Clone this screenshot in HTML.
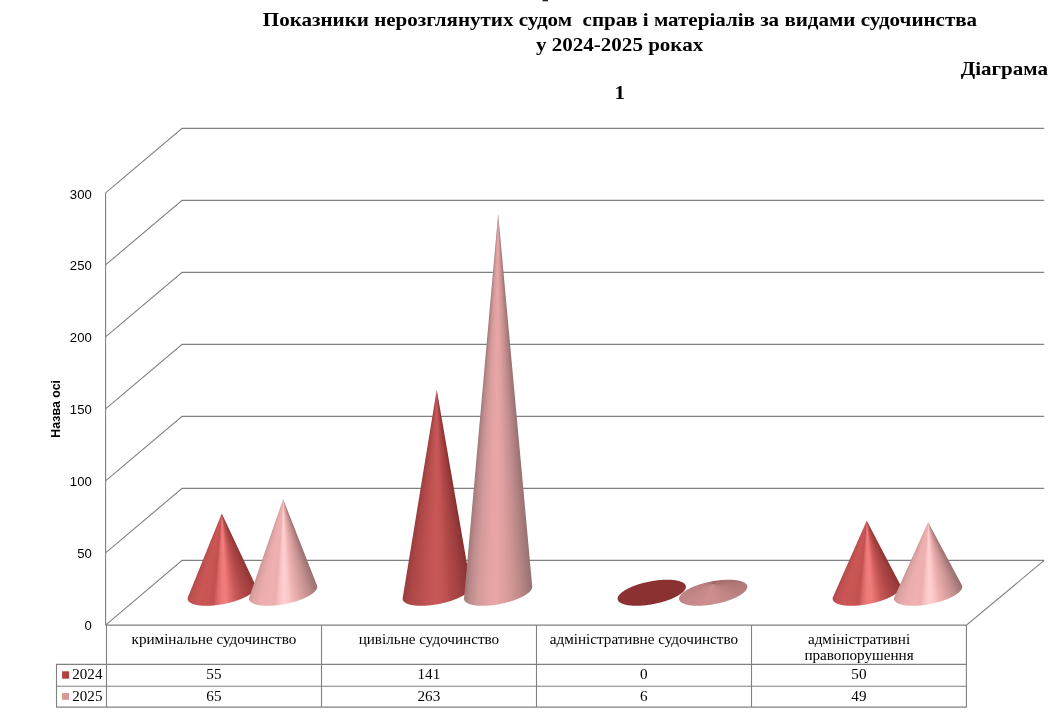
<!DOCTYPE html>
<html lang="uk"><head><meta charset="utf-8"><title>Діаграма 1</title>
<style>
html,body{margin:0;padding:0;background:#fff}
#c{position:relative;width:1054px;height:713px;overflow:hidden;background:#fff}
#c svg{position:absolute;left:0;top:0}
.cone{position:absolute;left:0;top:0;width:1054px;height:713px}
</style></head><body>
<div id="c">
<svg width="1054" height="713" viewBox="0 0 1054 713">
<path d="M105.6 625.1 L182.1 560.4 L1044.2 560.4 M105.6 552.8 L182.1 488.4 L1044.2 488.4 M105.6 480.8 L182.1 416.4 L1044.2 416.4 M105.6 408.8 L182.1 344.4 L1044.2 344.4 M105.6 336.8 L182.1 272.4 L1044.2 272.4 M105.6 264.8 L182.1 200.4 L1044.2 200.4 M105.6 192.8 L182.1 128.4 L1044.2 128.4 M105.6 192.8 L105.6 625.1 M105.6 625.1 L966.4 625.1 L1044.2 560.4" fill="none" stroke="#808080" stroke-width="1.1"/>
<path d="M106.5 625.1 L106.5 707.1 M321.5 625.1 L321.5 707.1 M536.5 625.1 L536.5 707.1 M751.5 625.1 L751.5 707.1 M966.4 625.1 L966.4 707.1 M56.5 664.4 L56.5 707.1 M56.0 664.4 L966.9 664.4 M56.0 686.2 L966.9 686.2 M56.0 707.1 L966.9 707.1" fill="none" stroke="#808080" stroke-width="1.1"/>
<text transform="translate(213.9,644.2) scale(1.107,1)" text-anchor="middle" font-size="13.70" font-family="'Liberation Serif', serif">кримінальне судочинство</text>
<text transform="translate(428.9,644.2) scale(1.107,1)" text-anchor="middle" font-size="13.70" font-family="'Liberation Serif', serif">цивільне судочинство</text>
<text transform="translate(643.9,644.2) scale(1.107,1)" text-anchor="middle" font-size="13.70" font-family="'Liberation Serif', serif">адміністративне судочинство</text>
<text transform="translate(859.0,644.2) scale(1.107,1)" text-anchor="middle" font-size="13.70" font-family="'Liberation Serif', serif">адміністративні</text>
<text transform="translate(859.0,660.4) scale(1.107,1)" text-anchor="middle" font-size="13.70" font-family="'Liberation Serif', serif">правопорушення</text>
<rect x="62.1" y="671.3" width="7" height="7.4" fill="#B3403E"/>
<text transform="translate(72.3,678.7) scale(1.100,1)" text-anchor="start" font-size="13.70" font-family="'Liberation Serif', serif">2024</text>
<text transform="translate(213.9,679.0) scale(1.107,1)" text-anchor="middle" font-size="13.70" font-family="'Liberation Serif', serif">55</text>
<text transform="translate(428.9,679.0) scale(1.107,1)" text-anchor="middle" font-size="13.70" font-family="'Liberation Serif', serif">141</text>
<text transform="translate(643.9,679.0) scale(1.107,1)" text-anchor="middle" font-size="13.70" font-family="'Liberation Serif', serif">0</text>
<text transform="translate(858.9,679.0) scale(1.107,1)" text-anchor="middle" font-size="13.70" font-family="'Liberation Serif', serif">50</text>
<rect x="62.1" y="693.0" width="7" height="6.8" fill="#D99694"/>
<text transform="translate(72.3,700.7) scale(1.100,1)" text-anchor="start" font-size="13.70" font-family="'Liberation Serif', serif">2025</text>
<text transform="translate(213.9,701.0) scale(1.107,1)" text-anchor="middle" font-size="13.70" font-family="'Liberation Serif', serif">65</text>
<text transform="translate(428.9,701.0) scale(1.107,1)" text-anchor="middle" font-size="13.70" font-family="'Liberation Serif', serif">263</text>
<text transform="translate(643.9,701.0) scale(1.107,1)" text-anchor="middle" font-size="13.70" font-family="'Liberation Serif', serif">6</text>
<text transform="translate(858.9,701.0) scale(1.107,1)" text-anchor="middle" font-size="13.70" font-family="'Liberation Serif', serif">49</text>
<text transform="translate(91.8,630.0) scale(1.070,1)" text-anchor="end" font-size="12.30" font-family="'Liberation Sans', sans-serif">0</text>
<text transform="translate(91.8,558.0) scale(1.070,1)" text-anchor="end" font-size="12.30" font-family="'Liberation Sans', sans-serif">50</text>
<text transform="translate(91.8,486.0) scale(1.070,1)" text-anchor="end" font-size="12.30" font-family="'Liberation Sans', sans-serif">100</text>
<text transform="translate(91.8,414.0) scale(1.070,1)" text-anchor="end" font-size="12.30" font-family="'Liberation Sans', sans-serif">150</text>
<text transform="translate(91.8,342.0) scale(1.070,1)" text-anchor="end" font-size="12.30" font-family="'Liberation Sans', sans-serif">200</text>
<text transform="translate(91.8,270.0) scale(1.070,1)" text-anchor="end" font-size="12.30" font-family="'Liberation Sans', sans-serif">250</text>
<text transform="translate(91.8,199.0) scale(1.070,1)" text-anchor="end" font-size="12.30" font-family="'Liberation Sans', sans-serif">300</text>
<text transform="translate(60.3,408.8) scale(1.06,1) rotate(-90)" text-anchor="middle" font-size="12.4" font-weight="bold" font-family="'Liberation Sans', sans-serif">Назва осі</text>
<text transform="translate(620.0,26.4) scale(1.107,1)" text-anchor="middle" font-size="19.00" font-family="'Liberation Serif', serif" font-weight="bold" xml:space="preserve" style="white-space:pre">Показники нерозглянутих судом  справ і матеріалів за видами судочинства</text>
<text transform="translate(619.6,50.5) scale(1.107,1)" text-anchor="middle" font-size="19.00" font-family="'Liberation Serif', serif" font-weight="bold">у 2024-2025 роках</text>
<text transform="translate(1048.0,74.5) scale(1.107,1)" text-anchor="end" font-size="19.00" font-family="'Liberation Serif', serif" font-weight="bold">Діаграма</text>
<text transform="translate(619.7,98.7) scale(1.107,1)" text-anchor="middle" font-size="19.00" font-family="'Liberation Serif', serif" font-weight="bold">1</text>
<rect x="542.5" y="0" width="5.5" height="1.3" fill="#222"/>
</svg>
<div class="cone" style="clip-path:polygon(221.75px 513.55px, 188.00px 596.90px, 187.96px 597.01px, 187.92px 597.11px, 187.88px 597.22px, 187.85px 597.33px, 187.81px 597.43px, 187.78px 597.54px, 187.76px 597.65px, 187.73px 597.75px, 187.71px 597.86px, 187.69px 597.96px, 187.67px 598.07px, 187.66px 598.17px, 187.65px 598.27px, 187.64px 598.38px, 187.63px 598.48px, 187.63px 598.58px, 187.63px 598.68px, 187.63px 598.79px, 187.63px 598.89px, 187.64px 598.99px, 187.65px 599.09px, 187.66px 599.19px, 187.67px 599.29px, 187.69px 599.38px, 187.71px 599.48px, 187.73px 599.58px, 187.75px 599.68px, 187.78px 599.77px, 187.81px 599.87px, 187.84px 599.96px, 187.88px 600.06px, 187.92px 600.15px, 187.96px 600.25px, 188.00px 600.34px, 188.04px 600.43px, 188.09px 600.52px, 188.14px 600.62px, 188.19px 600.71px, 188.25px 600.80px, 188.31px 600.89px, 188.37px 600.98px, 188.43px 601.06px, 188.50px 601.15px, 188.57px 601.24px, 188.64px 601.32px, 188.71px 601.41px, 188.79px 601.50px, 188.86px 601.58px, 188.94px 601.66px, 189.03px 601.75px, 189.11px 601.83px, 189.20px 601.91px, 189.29px 601.99px, 189.39px 602.07px, 189.48px 602.15px, 189.58px 602.23px, 189.68px 602.31px, 189.78px 602.39px, 189.89px 602.46px, 190.00px 602.54px, 190.11px 602.61px, 190.22px 602.69px, 190.33px 602.76px, 190.45px 602.84px, 190.57px 602.91px, 190.69px 602.98px, 190.82px 603.05px, 190.95px 603.12px, 191.07px 603.19px, 191.21px 603.26px, 191.34px 603.32px, 191.48px 603.39px, 191.61px 603.46px, 191.76px 603.52px, 191.90px 603.59px, 192.04px 603.65px, 192.19px 603.71px, 192.34px 603.77px, 192.49px 603.83px, 192.65px 603.89px, 192.80px 603.95px, 192.96px 604.01px, 193.12px 604.07px, 193.29px 604.13px, 193.45px 604.18px, 193.62px 604.24px, 193.79px 604.29px, 193.96px 604.34px, 194.14px 604.40px, 194.31px 604.45px, 194.49px 604.50px, 194.67px 604.55px, 194.85px 604.60px, 195.04px 604.64px, 195.22px 604.69px, 195.41px 604.74px, 195.60px 604.78px, 195.79px 604.83px, 195.99px 604.87px, 196.18px 604.91px, 196.38px 604.95px, 196.58px 604.99px, 196.79px 605.03px, 196.99px 605.07px, 197.20px 605.11px, 197.40px 605.14px, 197.61px 605.18px, 197.82px 605.22px, 198.04px 605.25px, 198.25px 605.28px, 198.47px 605.31px, 198.69px 605.35px, 198.91px 605.38px, 199.13px 605.40px, 199.35px 605.43px, 199.58px 605.46px, 199.81px 605.49px, 200.04px 605.51px, 200.27px 605.53px, 200.50px 605.56px, 200.73px 605.58px, 200.97px 605.60px, 201.20px 605.62px, 201.44px 605.64px, 201.68px 605.66px, 201.92px 605.68px, 202.17px 605.69px, 202.41px 605.71px, 202.66px 605.72px, 202.91px 605.74px, 203.16px 605.75px, 203.41px 605.76px, 203.66px 605.77px, 203.91px 605.78px, 204.17px 605.79px, 204.42px 605.80px, 204.68px 605.80px, 204.94px 605.81px, 205.20px 605.81px, 205.46px 605.82px, 205.72px 605.82px, 205.98px 605.82px, 206.25px 605.82px, 206.51px 605.82px, 206.78px 605.82px, 207.05px 605.82px, 207.32px 605.81px, 207.59px 605.81px, 207.86px 605.80px, 208.13px 605.80px, 208.41px 605.79px, 208.68px 605.78px, 208.96px 605.77px, 209.23px 605.76px, 209.51px 605.75px, 209.79px 605.74px, 210.07px 605.72px, 210.35px 605.71px, 210.63px 605.69px, 210.91px 605.68px, 211.19px 605.66px, 211.48px 605.64px, 211.76px 605.62px, 212.05px 605.60px, 212.33px 605.58px, 212.62px 605.56px, 212.91px 605.53px, 213.20px 605.51px, 213.48px 605.49px, 213.77px 605.46px, 214.06px 605.43px, 214.35px 605.40px, 214.64px 605.38px, 214.94px 605.35px, 215.23px 605.31px, 215.52px 605.28px, 215.81px 605.25px, 216.11px 605.22px, 216.40px 605.18px, 216.70px 605.14px, 216.99px 605.11px, 217.28px 605.07px, 217.58px 605.03px, 217.88px 604.99px, 218.17px 604.95px, 218.47px 604.91px, 218.76px 604.87px, 219.06px 604.83px, 219.36px 604.78px, 219.66px 604.74px, 219.95px 604.69px, 220.25px 604.64px, 220.55px 604.60px, 220.85px 604.55px, 221.14px 604.50px, 221.44px 604.45px, 221.74px 604.40px, 222.04px 604.34px, 222.33px 604.29px, 222.63px 604.24px, 222.93px 604.18px, 223.23px 604.13px, 223.52px 604.07px, 223.82px 604.01px, 224.12px 603.95px, 224.42px 603.89px, 224.71px 603.83px, 225.01px 603.77px, 225.31px 603.71px, 225.60px 603.65px, 225.90px 603.59px, 226.19px 603.52px, 226.49px 603.46px, 226.78px 603.39px, 227.08px 603.32px, 227.37px 603.26px, 227.66px 603.19px, 227.96px 603.12px, 228.25px 603.05px, 228.54px 602.98px, 228.83px 602.91px, 229.13px 602.84px, 229.42px 602.76px, 229.71px 602.69px, 229.99px 602.61px, 230.28px 602.54px, 230.57px 602.46px, 230.86px 602.39px, 231.15px 602.31px, 231.43px 602.23px, 231.72px 602.15px, 232.00px 602.07px, 232.28px 601.99px, 232.57px 601.91px, 232.85px 601.83px, 233.13px 601.75px, 233.41px 601.66px, 233.69px 601.58px, 233.97px 601.50px, 234.25px 601.41px, 234.52px 601.32px, 234.80px 601.24px, 235.07px 601.15px, 235.35px 601.06px, 235.62px 600.98px, 235.89px 600.89px, 236.16px 600.80px, 236.43px 600.71px, 236.70px 600.62px, 236.97px 600.52px, 237.23px 600.43px, 237.50px 600.34px, 237.76px 600.25px, 238.02px 600.15px, 238.28px 600.06px, 238.54px 599.96px, 238.80px 599.87px, 239.06px 599.77px, 239.32px 599.68px, 239.57px 599.58px, 239.82px 599.48px, 240.08px 599.38px, 240.33px 599.29px, 240.58px 599.19px, 240.82px 599.09px, 241.07px 598.99px, 241.31px 598.89px, 241.56px 598.79px, 241.80px 598.68px, 242.04px 598.58px, 242.28px 598.48px, 242.51px 598.38px, 242.75px 598.27px, 242.98px 598.17px, 243.22px 598.07px, 243.45px 597.96px, 243.68px 597.86px, 243.90px 597.75px, 244.13px 597.65px, 244.35px 597.54px, 244.58px 597.43px, 244.80px 597.33px, 245.01px 597.22px, 245.23px 597.11px, 245.45px 597.01px, 245.66px 596.90px, 245.87px 596.79px, 246.08px 596.68px, 246.29px 596.57px, 246.50px 596.46px, 246.70px 596.35px, 246.90px 596.24px, 247.10px 596.13px, 247.30px 596.02px, 247.50px 595.91px, 247.69px 595.80px, 247.88px 595.69px, 248.07px 595.58px, 248.26px 595.47px, 248.45px 595.36px, 248.63px 595.24px, 248.82px 595.13px, 249.00px 595.02px, 249.17px 594.91px, 249.35px 594.79px, 249.52px 594.68px, 249.70px 594.57px, 249.87px 594.46px, 250.03px 594.34px, 250.20px 594.23px, 250.36px 594.12px, 250.52px 594.00px, 250.68px 593.89px, 250.84px 593.78px, 250.99px 593.66px, 251.15px 593.55px, 251.30px 593.43px, 251.44px 593.32px, 251.59px 593.21px, 251.73px 593.09px, 251.87px 592.98px, 252.01px 592.86px, 252.15px 592.75px, 252.28px 592.64px, 252.42px 592.52px, 252.55px 592.41px, 252.67px 592.29px, 252.80px 592.18px, 252.92px 592.07px, 253.04px 591.95px, 253.16px 591.84px, 253.27px 591.72px, 253.39px 591.61px, 253.50px 591.50px, 253.60px 591.38px, 253.71px 591.27px, 253.81px 591.16px, 253.91px 591.04px, 254.01px 590.93px, 254.11px 590.82px, 254.20px 590.71px, 254.29px 590.59px, 254.38px 590.48px, 254.47px 590.37px, 254.55px 590.26px, 254.63px 590.14px, 254.71px 590.03px, 254.78px 589.92px, 254.86px 589.81px, 254.93px 589.70px, 255.00px 589.59px, 255.06px 589.48px, 255.13px 589.37px, 255.19px 589.26px, 255.25px 589.15px, 255.30px 589.04px, 255.35px 588.93px, 255.40px 588.82px, 255.45px 588.71px, 255.50px 588.60px, 255.54px 588.49px, 255.58px 588.39px, 255.62px 588.28px, 255.65px 588.17px, 255.69px 588.07px, 255.72px 587.96px, 255.74px 587.85px, 255.77px 587.75px, 255.79px 587.64px, 255.81px 587.54px, 255.83px 587.43px, 255.84px 587.33px, 255.85px 587.23px, 255.86px 587.12px, 255.87px 587.02px, 255.87px 586.92px, 255.87px 586.82px, 255.87px 586.71px, 255.87px 586.61px, 255.86px 586.51px, 255.85px 586.41px, 255.84px 586.31px, 255.83px 586.21px, 255.81px 586.12px, 255.79px 586.02px, 255.77px 585.92px, 255.75px 585.82px, 255.72px 585.73px, 255.69px 585.63px, 255.66px 585.54px, 255.62px 585.44px, 255.58px 585.35px, 255.54px 585.25px, 255.50px 585.16px);background:conic-gradient(from 0deg at 221.75px 513.55px, #8E3434 0deg, #8E3434 154.765deg, #A03E3E 159.492deg, #B24848 165.166deg, #C85858 170.367deg, #E06C6C 174.149deg, #F07C7C 176.986deg, #EE7A7A 179.822deg, #DC6A6A 182.659deg, #C25050 185.496deg, #C85454 188.805deg, #CA5656 194.952deg, #C05050 199.679deg, #B04848 202.043deg, #B04848 360deg)"></div>
<div class="cone" style="clip-path:polygon(283.15px 499.15px, 249.28px 597.22px, 249.25px 597.33px, 249.21px 597.43px, 249.18px 597.54px, 249.16px 597.65px, 249.13px 597.75px, 249.11px 597.86px, 249.09px 597.96px, 249.07px 598.07px, 249.06px 598.17px, 249.05px 598.27px, 249.04px 598.38px, 249.03px 598.48px, 249.03px 598.58px, 249.03px 598.68px, 249.03px 598.79px, 249.03px 598.89px, 249.04px 598.99px, 249.05px 599.09px, 249.06px 599.19px, 249.07px 599.29px, 249.09px 599.38px, 249.11px 599.48px, 249.13px 599.58px, 249.15px 599.68px, 249.18px 599.77px, 249.21px 599.87px, 249.24px 599.96px, 249.28px 600.06px, 249.32px 600.15px, 249.36px 600.25px, 249.40px 600.34px, 249.44px 600.43px, 249.49px 600.52px, 249.54px 600.62px, 249.59px 600.71px, 249.65px 600.80px, 249.71px 600.89px, 249.77px 600.98px, 249.83px 601.06px, 249.90px 601.15px, 249.97px 601.24px, 250.04px 601.32px, 250.11px 601.41px, 250.19px 601.50px, 250.26px 601.58px, 250.34px 601.66px, 250.43px 601.75px, 250.51px 601.83px, 250.60px 601.91px, 250.69px 601.99px, 250.79px 602.07px, 250.88px 602.15px, 250.98px 602.23px, 251.08px 602.31px, 251.18px 602.39px, 251.29px 602.46px, 251.40px 602.54px, 251.51px 602.61px, 251.62px 602.69px, 251.73px 602.76px, 251.85px 602.84px, 251.97px 602.91px, 252.09px 602.98px, 252.22px 603.05px, 252.35px 603.12px, 252.47px 603.19px, 252.61px 603.26px, 252.74px 603.32px, 252.88px 603.39px, 253.01px 603.46px, 253.16px 603.52px, 253.30px 603.59px, 253.44px 603.65px, 253.59px 603.71px, 253.74px 603.77px, 253.89px 603.83px, 254.05px 603.89px, 254.20px 603.95px, 254.36px 604.01px, 254.52px 604.07px, 254.69px 604.13px, 254.85px 604.18px, 255.02px 604.24px, 255.19px 604.29px, 255.36px 604.34px, 255.54px 604.40px, 255.71px 604.45px, 255.89px 604.50px, 256.07px 604.55px, 256.25px 604.60px, 256.44px 604.64px, 256.62px 604.69px, 256.81px 604.74px, 257.00px 604.78px, 257.19px 604.83px, 257.39px 604.87px, 257.58px 604.91px, 257.78px 604.95px, 257.98px 604.99px, 258.19px 605.03px, 258.39px 605.07px, 258.60px 605.11px, 258.80px 605.14px, 259.01px 605.18px, 259.22px 605.22px, 259.44px 605.25px, 259.65px 605.28px, 259.87px 605.31px, 260.09px 605.35px, 260.31px 605.38px, 260.53px 605.40px, 260.75px 605.43px, 260.98px 605.46px, 261.21px 605.49px, 261.44px 605.51px, 261.67px 605.53px, 261.90px 605.56px, 262.13px 605.58px, 262.37px 605.60px, 262.60px 605.62px, 262.84px 605.64px, 263.08px 605.66px, 263.32px 605.68px, 263.57px 605.69px, 263.81px 605.71px, 264.06px 605.72px, 264.31px 605.74px, 264.56px 605.75px, 264.81px 605.76px, 265.06px 605.77px, 265.31px 605.78px, 265.57px 605.79px, 265.82px 605.80px, 266.08px 605.80px, 266.34px 605.81px, 266.60px 605.81px, 266.86px 605.82px, 267.12px 605.82px, 267.38px 605.82px, 267.65px 605.82px, 267.91px 605.82px, 268.18px 605.82px, 268.45px 605.82px, 268.72px 605.81px, 268.99px 605.81px, 269.26px 605.80px, 269.53px 605.80px, 269.81px 605.79px, 270.08px 605.78px, 270.36px 605.77px, 270.63px 605.76px, 270.91px 605.75px, 271.19px 605.74px, 271.47px 605.72px, 271.75px 605.71px, 272.03px 605.69px, 272.31px 605.68px, 272.59px 605.66px, 272.88px 605.64px, 273.16px 605.62px, 273.45px 605.60px, 273.73px 605.58px, 274.02px 605.56px, 274.31px 605.53px, 274.60px 605.51px, 274.88px 605.49px, 275.17px 605.46px, 275.46px 605.43px, 275.75px 605.40px, 276.04px 605.38px, 276.34px 605.35px, 276.63px 605.31px, 276.92px 605.28px, 277.21px 605.25px, 277.51px 605.22px, 277.80px 605.18px, 278.10px 605.14px, 278.39px 605.11px, 278.68px 605.07px, 278.98px 605.03px, 279.28px 604.99px, 279.57px 604.95px, 279.87px 604.91px, 280.16px 604.87px, 280.46px 604.83px, 280.76px 604.78px, 281.06px 604.74px, 281.35px 604.69px, 281.65px 604.64px, 281.95px 604.60px, 282.25px 604.55px, 282.54px 604.50px, 282.84px 604.45px, 283.14px 604.40px, 283.44px 604.34px, 283.73px 604.29px, 284.03px 604.24px, 284.33px 604.18px, 284.63px 604.13px, 284.92px 604.07px, 285.22px 604.01px, 285.52px 603.95px, 285.82px 603.89px, 286.11px 603.83px, 286.41px 603.77px, 286.71px 603.71px, 287.00px 603.65px, 287.30px 603.59px, 287.59px 603.52px, 287.89px 603.46px, 288.18px 603.39px, 288.48px 603.32px, 288.77px 603.26px, 289.06px 603.19px, 289.36px 603.12px, 289.65px 603.05px, 289.94px 602.98px, 290.23px 602.91px, 290.53px 602.84px, 290.82px 602.76px, 291.11px 602.69px, 291.39px 602.61px, 291.68px 602.54px, 291.97px 602.46px, 292.26px 602.39px, 292.55px 602.31px, 292.83px 602.23px, 293.12px 602.15px, 293.40px 602.07px, 293.68px 601.99px, 293.97px 601.91px, 294.25px 601.83px, 294.53px 601.75px, 294.81px 601.66px, 295.09px 601.58px, 295.37px 601.50px, 295.65px 601.41px, 295.92px 601.32px, 296.20px 601.24px, 296.47px 601.15px, 296.75px 601.06px, 297.02px 600.98px, 297.29px 600.89px, 297.56px 600.80px, 297.83px 600.71px, 298.10px 600.62px, 298.37px 600.52px, 298.63px 600.43px, 298.90px 600.34px, 299.16px 600.25px, 299.42px 600.15px, 299.68px 600.06px, 299.94px 599.96px, 300.20px 599.87px, 300.46px 599.77px, 300.72px 599.68px, 300.97px 599.58px, 301.22px 599.48px, 301.48px 599.38px, 301.73px 599.29px, 301.98px 599.19px, 302.22px 599.09px, 302.47px 598.99px, 302.71px 598.89px, 302.96px 598.79px, 303.20px 598.68px, 303.44px 598.58px, 303.68px 598.48px, 303.91px 598.38px, 304.15px 598.27px, 304.38px 598.17px, 304.62px 598.07px, 304.85px 597.96px, 305.08px 597.86px, 305.30px 597.75px, 305.53px 597.65px, 305.75px 597.54px, 305.98px 597.43px, 306.20px 597.33px, 306.41px 597.22px, 306.63px 597.11px, 306.85px 597.01px, 307.06px 596.90px, 307.27px 596.79px, 307.48px 596.68px, 307.69px 596.57px, 307.90px 596.46px, 308.10px 596.35px, 308.30px 596.24px, 308.50px 596.13px, 308.70px 596.02px, 308.90px 595.91px, 309.09px 595.80px, 309.28px 595.69px, 309.47px 595.58px, 309.66px 595.47px, 309.85px 595.36px, 310.03px 595.24px, 310.22px 595.13px, 310.40px 595.02px, 310.57px 594.91px, 310.75px 594.79px, 310.92px 594.68px, 311.10px 594.57px, 311.27px 594.46px, 311.43px 594.34px, 311.60px 594.23px, 311.76px 594.12px, 311.92px 594.00px, 312.08px 593.89px, 312.24px 593.78px, 312.39px 593.66px, 312.55px 593.55px, 312.70px 593.43px, 312.84px 593.32px, 312.99px 593.21px, 313.13px 593.09px, 313.27px 592.98px, 313.41px 592.86px, 313.55px 592.75px, 313.68px 592.64px, 313.82px 592.52px, 313.95px 592.41px, 314.07px 592.29px, 314.20px 592.18px, 314.32px 592.07px, 314.44px 591.95px, 314.56px 591.84px, 314.67px 591.72px, 314.79px 591.61px, 314.90px 591.50px, 315.00px 591.38px, 315.11px 591.27px, 315.21px 591.16px, 315.31px 591.04px, 315.41px 590.93px, 315.51px 590.82px, 315.60px 590.71px, 315.69px 590.59px, 315.78px 590.48px, 315.87px 590.37px, 315.95px 590.26px, 316.03px 590.14px, 316.11px 590.03px, 316.18px 589.92px, 316.26px 589.81px, 316.33px 589.70px, 316.40px 589.59px, 316.46px 589.48px, 316.53px 589.37px, 316.59px 589.26px, 316.65px 589.15px, 316.70px 589.04px, 316.75px 588.93px, 316.80px 588.82px, 316.85px 588.71px, 316.90px 588.60px, 316.94px 588.49px, 316.98px 588.39px, 317.02px 588.28px, 317.05px 588.17px, 317.09px 588.07px, 317.12px 587.96px, 317.14px 587.85px, 317.17px 587.75px, 317.19px 587.64px, 317.21px 587.54px, 317.23px 587.43px, 317.24px 587.33px, 317.25px 587.23px, 317.26px 587.12px, 317.27px 587.02px, 317.27px 586.92px, 317.27px 586.82px, 317.27px 586.71px, 317.27px 586.61px, 317.26px 586.51px, 317.25px 586.41px, 317.24px 586.31px, 317.23px 586.21px, 317.21px 586.12px, 317.19px 586.02px, 317.17px 585.92px, 317.15px 585.82px, 317.12px 585.73px, 317.09px 585.63px, 317.06px 585.54px, 317.02px 585.44px);background:conic-gradient(from 0deg at 283.15px 499.15px, #987070 0deg, #987070 158.569deg, #A87A7A 160.998deg, #C48E8E 165.046deg, #DCA2A2 169.904deg, #EEB2B2 173.953deg, #FCC8C8 177.191deg, #FFD0D0 179.620deg, #FAC2C2 182.049deg, #ECAEAE 184.478deg, #EEB0B0 187.717deg, #EAACAC 192.980deg, #DCA2A2 197.028deg, #C89494 199.052deg, #C89494 360deg)"></div>
<div class="cone" style="clip-path:polygon(436.75px 389.71px, 402.69px 597.96px, 402.67px 598.07px, 402.66px 598.17px, 402.65px 598.27px, 402.64px 598.38px, 402.63px 598.48px, 402.63px 598.58px, 402.63px 598.68px, 402.63px 598.79px, 402.63px 598.89px, 402.64px 598.99px, 402.65px 599.09px, 402.66px 599.19px, 402.67px 599.29px, 402.69px 599.38px, 402.71px 599.48px, 402.73px 599.58px, 402.75px 599.68px, 402.78px 599.77px, 402.81px 599.87px, 402.84px 599.96px, 402.88px 600.06px, 402.92px 600.15px, 402.96px 600.25px, 403.00px 600.34px, 403.04px 600.43px, 403.09px 600.52px, 403.14px 600.62px, 403.19px 600.71px, 403.25px 600.80px, 403.31px 600.89px, 403.37px 600.98px, 403.43px 601.06px, 403.50px 601.15px, 403.57px 601.24px, 403.64px 601.32px, 403.71px 601.41px, 403.79px 601.50px, 403.86px 601.58px, 403.94px 601.66px, 404.03px 601.75px, 404.11px 601.83px, 404.20px 601.91px, 404.29px 601.99px, 404.39px 602.07px, 404.48px 602.15px, 404.58px 602.23px, 404.68px 602.31px, 404.78px 602.39px, 404.89px 602.46px, 405.00px 602.54px, 405.11px 602.61px, 405.22px 602.69px, 405.33px 602.76px, 405.45px 602.84px, 405.57px 602.91px, 405.69px 602.98px, 405.82px 603.05px, 405.95px 603.12px, 406.07px 603.19px, 406.21px 603.26px, 406.34px 603.32px, 406.48px 603.39px, 406.61px 603.46px, 406.76px 603.52px, 406.90px 603.59px, 407.04px 603.65px, 407.19px 603.71px, 407.34px 603.77px, 407.49px 603.83px, 407.65px 603.89px, 407.80px 603.95px, 407.96px 604.01px, 408.12px 604.07px, 408.29px 604.13px, 408.45px 604.18px, 408.62px 604.24px, 408.79px 604.29px, 408.96px 604.34px, 409.14px 604.40px, 409.31px 604.45px, 409.49px 604.50px, 409.67px 604.55px, 409.85px 604.60px, 410.04px 604.64px, 410.22px 604.69px, 410.41px 604.74px, 410.60px 604.78px, 410.79px 604.83px, 410.99px 604.87px, 411.18px 604.91px, 411.38px 604.95px, 411.58px 604.99px, 411.79px 605.03px, 411.99px 605.07px, 412.20px 605.11px, 412.40px 605.14px, 412.61px 605.18px, 412.82px 605.22px, 413.04px 605.25px, 413.25px 605.28px, 413.47px 605.31px, 413.69px 605.35px, 413.91px 605.38px, 414.13px 605.40px, 414.35px 605.43px, 414.58px 605.46px, 414.81px 605.49px, 415.04px 605.51px, 415.27px 605.53px, 415.50px 605.56px, 415.73px 605.58px, 415.97px 605.60px, 416.20px 605.62px, 416.44px 605.64px, 416.68px 605.66px, 416.92px 605.68px, 417.17px 605.69px, 417.41px 605.71px, 417.66px 605.72px, 417.91px 605.74px, 418.16px 605.75px, 418.41px 605.76px, 418.66px 605.77px, 418.91px 605.78px, 419.17px 605.79px, 419.42px 605.80px, 419.68px 605.80px, 419.94px 605.81px, 420.20px 605.81px, 420.46px 605.82px, 420.72px 605.82px, 420.98px 605.82px, 421.25px 605.82px, 421.51px 605.82px, 421.78px 605.82px, 422.05px 605.82px, 422.32px 605.81px, 422.59px 605.81px, 422.86px 605.80px, 423.13px 605.80px, 423.41px 605.79px, 423.68px 605.78px, 423.96px 605.77px, 424.23px 605.76px, 424.51px 605.75px, 424.79px 605.74px, 425.07px 605.72px, 425.35px 605.71px, 425.63px 605.69px, 425.91px 605.68px, 426.19px 605.66px, 426.48px 605.64px, 426.76px 605.62px, 427.05px 605.60px, 427.33px 605.58px, 427.62px 605.56px, 427.91px 605.53px, 428.20px 605.51px, 428.48px 605.49px, 428.77px 605.46px, 429.06px 605.43px, 429.35px 605.40px, 429.64px 605.38px, 429.94px 605.35px, 430.23px 605.31px, 430.52px 605.28px, 430.81px 605.25px, 431.11px 605.22px, 431.40px 605.18px, 431.70px 605.14px, 431.99px 605.11px, 432.28px 605.07px, 432.58px 605.03px, 432.88px 604.99px, 433.17px 604.95px, 433.47px 604.91px, 433.76px 604.87px, 434.06px 604.83px, 434.36px 604.78px, 434.66px 604.74px, 434.95px 604.69px, 435.25px 604.64px, 435.55px 604.60px, 435.85px 604.55px, 436.14px 604.50px, 436.44px 604.45px, 436.74px 604.40px, 437.04px 604.34px, 437.33px 604.29px, 437.63px 604.24px, 437.93px 604.18px, 438.23px 604.13px, 438.52px 604.07px, 438.82px 604.01px, 439.12px 603.95px, 439.42px 603.89px, 439.71px 603.83px, 440.01px 603.77px, 440.31px 603.71px, 440.60px 603.65px, 440.90px 603.59px, 441.19px 603.52px, 441.49px 603.46px, 441.78px 603.39px, 442.08px 603.32px, 442.37px 603.26px, 442.66px 603.19px, 442.96px 603.12px, 443.25px 603.05px, 443.54px 602.98px, 443.83px 602.91px, 444.13px 602.84px, 444.42px 602.76px, 444.71px 602.69px, 444.99px 602.61px, 445.28px 602.54px, 445.57px 602.46px, 445.86px 602.39px, 446.15px 602.31px, 446.43px 602.23px, 446.72px 602.15px, 447.00px 602.07px, 447.28px 601.99px, 447.57px 601.91px, 447.85px 601.83px, 448.13px 601.75px, 448.41px 601.66px, 448.69px 601.58px, 448.97px 601.50px, 449.25px 601.41px, 449.52px 601.32px, 449.80px 601.24px, 450.07px 601.15px, 450.35px 601.06px, 450.62px 600.98px, 450.89px 600.89px, 451.16px 600.80px, 451.43px 600.71px, 451.70px 600.62px, 451.97px 600.52px, 452.23px 600.43px, 452.50px 600.34px, 452.76px 600.25px, 453.02px 600.15px, 453.28px 600.06px, 453.54px 599.96px, 453.80px 599.87px, 454.06px 599.77px, 454.32px 599.68px, 454.57px 599.58px, 454.82px 599.48px, 455.08px 599.38px, 455.33px 599.29px, 455.58px 599.19px, 455.82px 599.09px, 456.07px 598.99px, 456.31px 598.89px, 456.56px 598.79px, 456.80px 598.68px, 457.04px 598.58px, 457.28px 598.48px, 457.51px 598.38px, 457.75px 598.27px, 457.98px 598.17px, 458.22px 598.07px, 458.45px 597.96px, 458.68px 597.86px, 458.90px 597.75px, 459.13px 597.65px, 459.35px 597.54px, 459.58px 597.43px, 459.80px 597.33px, 460.01px 597.22px, 460.23px 597.11px, 460.45px 597.01px, 460.66px 596.90px, 460.87px 596.79px, 461.08px 596.68px, 461.29px 596.57px, 461.50px 596.46px, 461.70px 596.35px, 461.90px 596.24px, 462.10px 596.13px, 462.30px 596.02px, 462.50px 595.91px, 462.69px 595.80px, 462.88px 595.69px, 463.07px 595.58px, 463.26px 595.47px, 463.45px 595.36px, 463.63px 595.24px, 463.82px 595.13px, 464.00px 595.02px, 464.17px 594.91px, 464.35px 594.79px, 464.52px 594.68px, 464.70px 594.57px, 464.87px 594.46px, 465.03px 594.34px, 465.20px 594.23px, 465.36px 594.12px, 465.52px 594.00px, 465.68px 593.89px, 465.84px 593.78px, 465.99px 593.66px, 466.15px 593.55px, 466.30px 593.43px, 466.44px 593.32px, 466.59px 593.21px, 466.73px 593.09px, 466.87px 592.98px, 467.01px 592.86px, 467.15px 592.75px, 467.28px 592.64px, 467.42px 592.52px, 467.55px 592.41px, 467.67px 592.29px, 467.80px 592.18px, 467.92px 592.07px, 468.04px 591.95px, 468.16px 591.84px, 468.27px 591.72px, 468.39px 591.61px, 468.50px 591.50px, 468.60px 591.38px, 468.71px 591.27px, 468.81px 591.16px, 468.91px 591.04px, 469.01px 590.93px, 469.11px 590.82px, 469.20px 590.71px, 469.29px 590.59px, 469.38px 590.48px, 469.47px 590.37px, 469.55px 590.26px, 469.63px 590.14px, 469.71px 590.03px, 469.78px 589.92px, 469.86px 589.81px, 469.93px 589.70px, 470.00px 589.59px, 470.06px 589.48px, 470.13px 589.37px, 470.19px 589.26px, 470.25px 589.15px, 470.30px 589.04px, 470.35px 588.93px, 470.40px 588.82px, 470.45px 588.71px, 470.50px 588.60px, 470.54px 588.49px, 470.58px 588.39px, 470.62px 588.28px, 470.65px 588.17px, 470.69px 588.07px, 470.72px 587.96px, 470.74px 587.85px, 470.77px 587.75px, 470.79px 587.64px, 470.81px 587.54px, 470.83px 587.43px, 470.84px 587.33px, 470.85px 587.23px, 470.86px 587.12px, 470.87px 587.02px, 470.87px 586.92px, 470.87px 586.82px, 470.87px 586.71px, 470.87px 586.61px, 470.86px 586.51px, 470.85px 586.41px, 470.84px 586.31px, 470.83px 586.21px, 470.81px 586.12px);background:conic-gradient(from 0deg at 436.75px 389.71px, #883030 0deg, #883030 170.161deg, #9E3E3E 173.031deg, #B24848 175.900deg, #C65656 178.769deg, #C85858 180.681deg, #BA4E4E 184.507deg, #AC4646 187.376deg, #9A3C3C 189.289deg, #9A3C3C 360deg)"></div>
<div class="cone" style="clip-path:polygon(498.15px 214.03px, 464.04px 598.38px, 464.03px 598.48px, 464.03px 598.58px, 464.03px 598.68px, 464.03px 598.79px, 464.03px 598.89px, 464.04px 598.99px, 464.05px 599.09px, 464.06px 599.19px, 464.07px 599.29px, 464.09px 599.38px, 464.11px 599.48px, 464.13px 599.58px, 464.15px 599.68px, 464.18px 599.77px, 464.21px 599.87px, 464.24px 599.96px, 464.28px 600.06px, 464.32px 600.15px, 464.36px 600.25px, 464.40px 600.34px, 464.44px 600.43px, 464.49px 600.52px, 464.54px 600.62px, 464.59px 600.71px, 464.65px 600.80px, 464.71px 600.89px, 464.77px 600.98px, 464.83px 601.06px, 464.90px 601.15px, 464.97px 601.24px, 465.04px 601.32px, 465.11px 601.41px, 465.19px 601.50px, 465.26px 601.58px, 465.34px 601.66px, 465.43px 601.75px, 465.51px 601.83px, 465.60px 601.91px, 465.69px 601.99px, 465.79px 602.07px, 465.88px 602.15px, 465.98px 602.23px, 466.08px 602.31px, 466.18px 602.39px, 466.29px 602.46px, 466.40px 602.54px, 466.51px 602.61px, 466.62px 602.69px, 466.73px 602.76px, 466.85px 602.84px, 466.97px 602.91px, 467.09px 602.98px, 467.22px 603.05px, 467.35px 603.12px, 467.47px 603.19px, 467.61px 603.26px, 467.74px 603.32px, 467.88px 603.39px, 468.01px 603.46px, 468.16px 603.52px, 468.30px 603.59px, 468.44px 603.65px, 468.59px 603.71px, 468.74px 603.77px, 468.89px 603.83px, 469.05px 603.89px, 469.20px 603.95px, 469.36px 604.01px, 469.52px 604.07px, 469.69px 604.13px, 469.85px 604.18px, 470.02px 604.24px, 470.19px 604.29px, 470.36px 604.34px, 470.54px 604.40px, 470.71px 604.45px, 470.89px 604.50px, 471.07px 604.55px, 471.25px 604.60px, 471.44px 604.64px, 471.62px 604.69px, 471.81px 604.74px, 472.00px 604.78px, 472.19px 604.83px, 472.39px 604.87px, 472.58px 604.91px, 472.78px 604.95px, 472.98px 604.99px, 473.19px 605.03px, 473.39px 605.07px, 473.60px 605.11px, 473.80px 605.14px, 474.01px 605.18px, 474.22px 605.22px, 474.44px 605.25px, 474.65px 605.28px, 474.87px 605.31px, 475.09px 605.35px, 475.31px 605.38px, 475.53px 605.40px, 475.75px 605.43px, 475.98px 605.46px, 476.21px 605.49px, 476.44px 605.51px, 476.67px 605.53px, 476.90px 605.56px, 477.13px 605.58px, 477.37px 605.60px, 477.60px 605.62px, 477.84px 605.64px, 478.08px 605.66px, 478.32px 605.68px, 478.57px 605.69px, 478.81px 605.71px, 479.06px 605.72px, 479.31px 605.74px, 479.56px 605.75px, 479.81px 605.76px, 480.06px 605.77px, 480.31px 605.78px, 480.57px 605.79px, 480.82px 605.80px, 481.08px 605.80px, 481.34px 605.81px, 481.60px 605.81px, 481.86px 605.82px, 482.12px 605.82px, 482.38px 605.82px, 482.65px 605.82px, 482.91px 605.82px, 483.18px 605.82px, 483.45px 605.82px, 483.72px 605.81px, 483.99px 605.81px, 484.26px 605.80px, 484.53px 605.80px, 484.81px 605.79px, 485.08px 605.78px, 485.36px 605.77px, 485.63px 605.76px, 485.91px 605.75px, 486.19px 605.74px, 486.47px 605.72px, 486.75px 605.71px, 487.03px 605.69px, 487.31px 605.68px, 487.59px 605.66px, 487.88px 605.64px, 488.16px 605.62px, 488.45px 605.60px, 488.73px 605.58px, 489.02px 605.56px, 489.31px 605.53px, 489.60px 605.51px, 489.88px 605.49px, 490.17px 605.46px, 490.46px 605.43px, 490.75px 605.40px, 491.04px 605.38px, 491.34px 605.35px, 491.63px 605.31px, 491.92px 605.28px, 492.21px 605.25px, 492.51px 605.22px, 492.80px 605.18px, 493.10px 605.14px, 493.39px 605.11px, 493.68px 605.07px, 493.98px 605.03px, 494.28px 604.99px, 494.57px 604.95px, 494.87px 604.91px, 495.16px 604.87px, 495.46px 604.83px, 495.76px 604.78px, 496.06px 604.74px, 496.35px 604.69px, 496.65px 604.64px, 496.95px 604.60px, 497.25px 604.55px, 497.54px 604.50px, 497.84px 604.45px, 498.14px 604.40px, 498.44px 604.34px, 498.73px 604.29px, 499.03px 604.24px, 499.33px 604.18px, 499.63px 604.13px, 499.92px 604.07px, 500.22px 604.01px, 500.52px 603.95px, 500.82px 603.89px, 501.11px 603.83px, 501.41px 603.77px, 501.71px 603.71px, 502.00px 603.65px, 502.30px 603.59px, 502.59px 603.52px, 502.89px 603.46px, 503.18px 603.39px, 503.48px 603.32px, 503.77px 603.26px, 504.06px 603.19px, 504.36px 603.12px, 504.65px 603.05px, 504.94px 602.98px, 505.23px 602.91px, 505.53px 602.84px, 505.82px 602.76px, 506.11px 602.69px, 506.39px 602.61px, 506.68px 602.54px, 506.97px 602.46px, 507.26px 602.39px, 507.55px 602.31px, 507.83px 602.23px, 508.12px 602.15px, 508.40px 602.07px, 508.68px 601.99px, 508.97px 601.91px, 509.25px 601.83px, 509.53px 601.75px, 509.81px 601.66px, 510.09px 601.58px, 510.37px 601.50px, 510.65px 601.41px, 510.92px 601.32px, 511.20px 601.24px, 511.47px 601.15px, 511.75px 601.06px, 512.02px 600.98px, 512.29px 600.89px, 512.56px 600.80px, 512.83px 600.71px, 513.10px 600.62px, 513.37px 600.52px, 513.63px 600.43px, 513.90px 600.34px, 514.16px 600.25px, 514.42px 600.15px, 514.68px 600.06px, 514.94px 599.96px, 515.20px 599.87px, 515.46px 599.77px, 515.72px 599.68px, 515.97px 599.58px, 516.22px 599.48px, 516.48px 599.38px, 516.73px 599.29px, 516.98px 599.19px, 517.22px 599.09px, 517.47px 598.99px, 517.71px 598.89px, 517.96px 598.79px, 518.20px 598.68px, 518.44px 598.58px, 518.68px 598.48px, 518.91px 598.38px, 519.15px 598.27px, 519.38px 598.17px, 519.62px 598.07px, 519.85px 597.96px, 520.08px 597.86px, 520.30px 597.75px, 520.53px 597.65px, 520.75px 597.54px, 520.98px 597.43px, 521.20px 597.33px, 521.41px 597.22px, 521.63px 597.11px, 521.85px 597.01px, 522.06px 596.90px, 522.27px 596.79px, 522.48px 596.68px, 522.69px 596.57px, 522.90px 596.46px, 523.10px 596.35px, 523.30px 596.24px, 523.50px 596.13px, 523.70px 596.02px, 523.90px 595.91px, 524.09px 595.80px, 524.28px 595.69px, 524.47px 595.58px, 524.66px 595.47px, 524.85px 595.36px, 525.03px 595.24px, 525.22px 595.13px, 525.40px 595.02px, 525.57px 594.91px, 525.75px 594.79px, 525.92px 594.68px, 526.10px 594.57px, 526.27px 594.46px, 526.43px 594.34px, 526.60px 594.23px, 526.76px 594.12px, 526.92px 594.00px, 527.08px 593.89px, 527.24px 593.78px, 527.39px 593.66px, 527.55px 593.55px, 527.70px 593.43px, 527.84px 593.32px, 527.99px 593.21px, 528.13px 593.09px, 528.27px 592.98px, 528.41px 592.86px, 528.55px 592.75px, 528.68px 592.64px, 528.82px 592.52px, 528.95px 592.41px, 529.07px 592.29px, 529.20px 592.18px, 529.32px 592.07px, 529.44px 591.95px, 529.56px 591.84px, 529.67px 591.72px, 529.79px 591.61px, 529.90px 591.50px, 530.00px 591.38px, 530.11px 591.27px, 530.21px 591.16px, 530.31px 591.04px, 530.41px 590.93px, 530.51px 590.82px, 530.60px 590.71px, 530.69px 590.59px, 530.78px 590.48px, 530.87px 590.37px, 530.95px 590.26px, 531.03px 590.14px, 531.11px 590.03px, 531.18px 589.92px, 531.26px 589.81px, 531.33px 589.70px, 531.40px 589.59px, 531.46px 589.48px, 531.53px 589.37px, 531.59px 589.26px, 531.65px 589.15px, 531.70px 589.04px, 531.75px 588.93px, 531.80px 588.82px, 531.85px 588.71px, 531.90px 588.60px, 531.94px 588.49px, 531.98px 588.39px, 532.02px 588.28px, 532.05px 588.17px, 532.09px 588.07px, 532.12px 587.96px, 532.14px 587.85px, 532.17px 587.75px, 532.19px 587.64px, 532.21px 587.54px, 532.23px 587.43px, 532.24px 587.33px, 532.25px 587.23px, 532.26px 587.12px, 532.27px 587.02px, 532.27px 586.92px, 532.27px 586.82px, 532.27px 586.71px, 532.27px 586.61px, 532.26px 586.51px, 532.25px 586.41px);background:conic-gradient(from 0deg at 498.15px 214.03px, #987070 0deg, #987070 174.767deg, #AC7E7E 175.798deg, #C89090 177.343deg, #DC9E9E 178.889deg, #E8A6A6 180.229deg, #E4A2A2 181.465deg, #D49A9A 183.011deg, #BC8A8A 184.248deg, #A07878 185.072deg, #A07878 360deg)"></div>
<div class="cone" style="clip-path:polygon(682.15px 592.75px, 682.67px 592.29px, 683.16px 591.84px, 683.60px 591.38px, 684.01px 590.93px, 684.38px 590.48px, 684.71px 590.03px, 685.00px 589.59px, 685.25px 589.15px, 685.45px 588.71px, 685.62px 588.28px, 685.74px 587.85px, 685.83px 587.43px, 685.87px 587.02px, 685.87px 586.61px, 685.83px 586.21px, 685.75px 585.82px, 685.62px 585.44px, 685.46px 585.07px, 685.25px 584.70px, 685.00px 584.35px, 684.71px 584.00px, 684.39px 583.67px, 684.02px 583.35px, 683.61px 583.04px, 683.17px 582.74px, 682.68px 582.45px, 682.16px 582.18px, 681.60px 581.91px, 681.01px 581.67px, 680.38px 581.43px, 679.71px 581.21px, 679.01px 581.00px, 678.28px 580.81px, 677.51px 580.63px, 676.71px 580.47px, 675.89px 580.32px, 675.03px 580.19px, 674.15px 580.07px, 673.23px 579.97px, 672.30px 579.88px, 671.33px 579.81px, 670.34px 579.75px, 669.33px 579.71px, 668.30px 579.69px, 667.25px 579.68px, 666.18px 579.69px, 665.09px 579.71px, 663.99px 579.75px, 662.87px 579.81px, 661.74px 579.88px, 660.59px 579.97px, 659.44px 580.07px, 658.27px 580.19px, 657.10px 580.32px, 655.92px 580.47px, 654.74px 580.63px, 653.55px 580.81px, 652.36px 581.00px, 651.17px 581.21px, 649.98px 581.43px, 648.79px 581.67px, 647.60px 581.91px, 646.42px 582.18px, 645.25px 582.45px, 644.08px 582.74px, 642.93px 583.04px, 641.78px 583.35px, 640.65px 583.67px, 639.53px 584.00px, 638.43px 584.35px, 637.34px 584.70px, 636.27px 585.07px, 635.22px 585.44px, 634.18px 585.82px, 633.17px 586.21px, 632.19px 586.61px, 631.22px 587.02px, 630.28px 587.43px, 629.37px 587.85px, 628.49px 588.28px, 627.63px 588.71px, 626.80px 589.15px, 626.00px 589.59px, 625.24px 590.03px, 624.50px 590.48px, 623.80px 590.93px, 623.14px 591.38px, 622.51px 591.84px, 621.91px 592.29px, 621.35px 592.75px, 620.83px 593.21px, 620.34px 593.66px, 619.90px 594.12px, 619.49px 594.57px, 619.12px 595.02px, 618.79px 595.47px, 618.50px 595.91px, 618.25px 596.35px, 618.05px 596.79px, 617.88px 597.22px, 617.76px 597.65px, 617.67px 598.07px, 617.63px 598.48px, 617.63px 598.89px, 617.67px 599.29px, 617.75px 599.68px, 617.88px 600.06px, 618.04px 600.43px, 618.25px 600.80px, 618.50px 601.15px, 618.79px 601.50px, 619.11px 601.83px, 619.48px 602.15px, 619.89px 602.46px, 620.33px 602.76px, 620.82px 603.05px, 621.34px 603.32px, 621.90px 603.59px, 622.49px 603.83px, 623.12px 604.07px, 623.79px 604.29px, 624.49px 604.50px, 625.22px 604.69px, 625.99px 604.87px, 626.79px 605.03px, 627.61px 605.18px, 628.47px 605.31px, 629.35px 605.43px, 630.27px 605.53px, 631.20px 605.62px, 632.17px 605.69px, 633.16px 605.75px, 634.17px 605.79px, 635.20px 605.81px, 636.25px 605.82px, 637.32px 605.81px, 638.41px 605.79px, 639.51px 605.75px, 640.63px 605.69px, 641.76px 605.62px, 642.91px 605.53px, 644.06px 605.43px, 645.23px 605.31px, 646.40px 605.18px, 647.58px 605.03px, 648.76px 604.87px, 649.95px 604.69px, 651.14px 604.50px, 652.33px 604.29px, 653.52px 604.07px, 654.71px 603.83px, 655.90px 603.59px, 657.08px 603.32px, 658.25px 603.05px, 659.42px 602.76px, 660.57px 602.46px, 661.72px 602.15px, 662.85px 601.83px, 663.97px 601.50px, 665.07px 601.15px, 666.16px 600.80px, 667.23px 600.43px, 668.28px 600.06px, 669.32px 599.68px, 670.33px 599.29px, 671.31px 598.89px, 672.28px 598.48px, 673.22px 598.07px, 674.13px 597.65px, 675.01px 597.22px, 675.87px 596.79px, 676.70px 596.35px, 677.50px 595.91px, 678.26px 595.47px, 679.00px 595.02px, 679.70px 594.57px, 680.36px 594.12px, 680.99px 593.66px, 681.59px 593.21px);background:#8B3131"></div>
<div class="cone" style="clip-path:polygon(743.55px 592.75px, 744.07px 592.29px, 744.56px 591.84px, 745.00px 591.38px, 745.41px 590.93px, 745.78px 590.48px, 746.11px 590.03px, 746.40px 589.59px, 746.65px 589.15px, 746.85px 588.71px, 747.02px 588.28px, 747.14px 587.85px, 747.23px 587.43px, 747.27px 587.02px, 747.27px 586.61px, 747.23px 586.21px, 747.15px 585.82px, 747.02px 585.44px, 746.86px 585.07px, 746.65px 584.70px, 746.40px 584.35px, 746.11px 584.00px, 745.79px 583.67px, 745.42px 583.35px, 745.01px 583.04px, 744.57px 582.74px, 744.08px 582.45px, 743.56px 582.18px, 743.00px 581.91px, 742.41px 581.67px, 741.78px 581.43px, 741.11px 581.21px, 740.41px 581.00px, 739.68px 580.81px, 738.91px 580.63px, 738.11px 580.47px, 737.29px 580.32px, 736.43px 580.19px, 735.55px 580.07px, 734.63px 579.97px, 733.70px 579.88px, 732.73px 579.81px, 731.74px 579.75px, 730.73px 579.71px, 729.70px 579.69px, 728.65px 579.68px, 727.58px 579.69px, 726.49px 579.71px, 725.39px 579.75px, 724.27px 579.81px, 723.14px 579.88px, 721.99px 579.97px, 720.84px 580.07px, 719.67px 580.19px, 718.50px 580.32px, 717.32px 580.47px, 716.14px 580.63px, 714.95px 580.81px, 713.76px 581.00px, 712.57px 581.21px, 711.38px 581.43px, 710.19px 581.67px, 709.00px 581.91px, 707.82px 582.18px, 706.65px 582.45px, 705.48px 582.74px, 704.33px 583.04px, 703.18px 583.35px, 702.05px 583.67px, 700.93px 584.00px, 699.83px 584.35px, 698.74px 584.70px, 697.67px 585.07px, 696.62px 585.44px, 695.58px 585.82px, 694.57px 586.21px, 693.59px 586.61px, 692.62px 587.02px, 691.68px 587.43px, 690.77px 587.85px, 689.89px 588.28px, 689.03px 588.71px, 688.20px 589.15px, 687.40px 589.59px, 686.64px 590.03px, 685.90px 590.48px, 685.20px 590.93px, 684.54px 591.38px, 683.91px 591.84px, 683.31px 592.29px, 682.75px 592.75px, 682.23px 593.21px, 681.74px 593.66px, 681.30px 594.12px, 680.89px 594.57px, 680.52px 595.02px, 680.19px 595.47px, 679.90px 595.91px, 679.65px 596.35px, 679.45px 596.79px, 679.28px 597.22px, 679.16px 597.65px, 679.07px 598.07px, 679.03px 598.48px, 679.03px 598.89px, 679.07px 599.29px, 679.15px 599.68px, 679.28px 600.06px, 679.44px 600.43px, 679.65px 600.80px, 679.90px 601.15px, 680.19px 601.50px, 680.51px 601.83px, 680.88px 602.15px, 681.29px 602.46px, 681.73px 602.76px, 682.22px 603.05px, 682.74px 603.32px, 683.30px 603.59px, 683.89px 603.83px, 684.52px 604.07px, 685.19px 604.29px, 685.89px 604.50px, 686.62px 604.69px, 687.39px 604.87px, 688.19px 605.03px, 689.01px 605.18px, 689.87px 605.31px, 690.75px 605.43px, 691.67px 605.53px, 692.60px 605.62px, 693.57px 605.69px, 694.56px 605.75px, 695.57px 605.79px, 696.60px 605.81px, 697.65px 605.82px, 698.72px 605.81px, 699.81px 605.79px, 700.91px 605.75px, 702.03px 605.69px, 703.16px 605.62px, 704.31px 605.53px, 705.46px 605.43px, 706.63px 605.31px, 707.80px 605.18px, 708.98px 605.03px, 710.16px 604.87px, 711.35px 604.69px, 712.54px 604.50px, 713.73px 604.29px, 714.92px 604.07px, 716.11px 603.83px, 717.30px 603.59px, 718.48px 603.32px, 719.65px 603.05px, 720.82px 602.76px, 721.97px 602.46px, 723.12px 602.15px, 724.25px 601.83px, 725.37px 601.50px, 726.47px 601.15px, 727.56px 600.80px, 728.63px 600.43px, 729.68px 600.06px, 730.72px 599.68px, 731.73px 599.29px, 732.71px 598.89px, 733.68px 598.48px, 734.62px 598.07px, 735.53px 597.65px, 736.41px 597.22px, 737.27px 596.79px, 738.10px 596.35px, 738.90px 595.91px, 739.66px 595.47px, 740.40px 595.02px, 741.10px 594.57px, 741.76px 594.12px, 742.39px 593.66px, 742.99px 593.21px);background:conic-gradient(from 0deg at 713.15px 584.11px, #9A6262 0deg, #A06868 45deg, #A87070 78deg, #B67C7C 100deg, #C28686 130deg, #CA8C8C 170deg, #CC8E8E 200deg, #C68888 235deg, #BA8080 262deg, #B07878 282deg, #A46C6C 310deg, #9C6464 340deg, #9A6262 360deg)"></div>
<div class="cone" style="clip-path:polygon(866.75px 520.75px, 833.10px 596.68px, 833.05px 596.79px, 833.00px 596.90px, 832.96px 597.01px, 832.92px 597.11px, 832.88px 597.22px, 832.85px 597.33px, 832.81px 597.43px, 832.78px 597.54px, 832.76px 597.65px, 832.73px 597.75px, 832.71px 597.86px, 832.69px 597.96px, 832.67px 598.07px, 832.66px 598.17px, 832.65px 598.27px, 832.64px 598.38px, 832.63px 598.48px, 832.63px 598.58px, 832.63px 598.68px, 832.63px 598.79px, 832.63px 598.89px, 832.64px 598.99px, 832.65px 599.09px, 832.66px 599.19px, 832.67px 599.29px, 832.69px 599.38px, 832.71px 599.48px, 832.73px 599.58px, 832.75px 599.68px, 832.78px 599.77px, 832.81px 599.87px, 832.84px 599.96px, 832.88px 600.06px, 832.92px 600.15px, 832.96px 600.25px, 833.00px 600.34px, 833.04px 600.43px, 833.09px 600.52px, 833.14px 600.62px, 833.19px 600.71px, 833.25px 600.80px, 833.31px 600.89px, 833.37px 600.98px, 833.43px 601.06px, 833.50px 601.15px, 833.57px 601.24px, 833.64px 601.32px, 833.71px 601.41px, 833.79px 601.50px, 833.86px 601.58px, 833.94px 601.66px, 834.03px 601.75px, 834.11px 601.83px, 834.20px 601.91px, 834.29px 601.99px, 834.39px 602.07px, 834.48px 602.15px, 834.58px 602.23px, 834.68px 602.31px, 834.78px 602.39px, 834.89px 602.46px, 835.00px 602.54px, 835.11px 602.61px, 835.22px 602.69px, 835.33px 602.76px, 835.45px 602.84px, 835.57px 602.91px, 835.69px 602.98px, 835.82px 603.05px, 835.95px 603.12px, 836.07px 603.19px, 836.21px 603.26px, 836.34px 603.32px, 836.48px 603.39px, 836.61px 603.46px, 836.76px 603.52px, 836.90px 603.59px, 837.04px 603.65px, 837.19px 603.71px, 837.34px 603.77px, 837.49px 603.83px, 837.65px 603.89px, 837.80px 603.95px, 837.96px 604.01px, 838.12px 604.07px, 838.29px 604.13px, 838.45px 604.18px, 838.62px 604.24px, 838.79px 604.29px, 838.96px 604.34px, 839.14px 604.40px, 839.31px 604.45px, 839.49px 604.50px, 839.67px 604.55px, 839.85px 604.60px, 840.04px 604.64px, 840.22px 604.69px, 840.41px 604.74px, 840.60px 604.78px, 840.79px 604.83px, 840.99px 604.87px, 841.18px 604.91px, 841.38px 604.95px, 841.58px 604.99px, 841.79px 605.03px, 841.99px 605.07px, 842.20px 605.11px, 842.40px 605.14px, 842.61px 605.18px, 842.82px 605.22px, 843.04px 605.25px, 843.25px 605.28px, 843.47px 605.31px, 843.69px 605.35px, 843.91px 605.38px, 844.13px 605.40px, 844.35px 605.43px, 844.58px 605.46px, 844.81px 605.49px, 845.04px 605.51px, 845.27px 605.53px, 845.50px 605.56px, 845.73px 605.58px, 845.97px 605.60px, 846.20px 605.62px, 846.44px 605.64px, 846.68px 605.66px, 846.92px 605.68px, 847.17px 605.69px, 847.41px 605.71px, 847.66px 605.72px, 847.91px 605.74px, 848.16px 605.75px, 848.41px 605.76px, 848.66px 605.77px, 848.91px 605.78px, 849.17px 605.79px, 849.42px 605.80px, 849.68px 605.80px, 849.94px 605.81px, 850.20px 605.81px, 850.46px 605.82px, 850.72px 605.82px, 850.98px 605.82px, 851.25px 605.82px, 851.51px 605.82px, 851.78px 605.82px, 852.05px 605.82px, 852.32px 605.81px, 852.59px 605.81px, 852.86px 605.80px, 853.13px 605.80px, 853.41px 605.79px, 853.68px 605.78px, 853.96px 605.77px, 854.23px 605.76px, 854.51px 605.75px, 854.79px 605.74px, 855.07px 605.72px, 855.35px 605.71px, 855.63px 605.69px, 855.91px 605.68px, 856.19px 605.66px, 856.48px 605.64px, 856.76px 605.62px, 857.05px 605.60px, 857.33px 605.58px, 857.62px 605.56px, 857.91px 605.53px, 858.20px 605.51px, 858.48px 605.49px, 858.77px 605.46px, 859.06px 605.43px, 859.35px 605.40px, 859.64px 605.38px, 859.94px 605.35px, 860.23px 605.31px, 860.52px 605.28px, 860.81px 605.25px, 861.11px 605.22px, 861.40px 605.18px, 861.70px 605.14px, 861.99px 605.11px, 862.28px 605.07px, 862.58px 605.03px, 862.88px 604.99px, 863.17px 604.95px, 863.47px 604.91px, 863.76px 604.87px, 864.06px 604.83px, 864.36px 604.78px, 864.66px 604.74px, 864.95px 604.69px, 865.25px 604.64px, 865.55px 604.60px, 865.85px 604.55px, 866.14px 604.50px, 866.44px 604.45px, 866.74px 604.40px, 867.04px 604.34px, 867.33px 604.29px, 867.63px 604.24px, 867.93px 604.18px, 868.23px 604.13px, 868.52px 604.07px, 868.82px 604.01px, 869.12px 603.95px, 869.42px 603.89px, 869.71px 603.83px, 870.01px 603.77px, 870.31px 603.71px, 870.60px 603.65px, 870.90px 603.59px, 871.19px 603.52px, 871.49px 603.46px, 871.78px 603.39px, 872.08px 603.32px, 872.37px 603.26px, 872.66px 603.19px, 872.96px 603.12px, 873.25px 603.05px, 873.54px 602.98px, 873.83px 602.91px, 874.13px 602.84px, 874.42px 602.76px, 874.71px 602.69px, 874.99px 602.61px, 875.28px 602.54px, 875.57px 602.46px, 875.86px 602.39px, 876.15px 602.31px, 876.43px 602.23px, 876.72px 602.15px, 877.00px 602.07px, 877.28px 601.99px, 877.57px 601.91px, 877.85px 601.83px, 878.13px 601.75px, 878.41px 601.66px, 878.69px 601.58px, 878.97px 601.50px, 879.25px 601.41px, 879.52px 601.32px, 879.80px 601.24px, 880.07px 601.15px, 880.35px 601.06px, 880.62px 600.98px, 880.89px 600.89px, 881.16px 600.80px, 881.43px 600.71px, 881.70px 600.62px, 881.97px 600.52px, 882.23px 600.43px, 882.50px 600.34px, 882.76px 600.25px, 883.02px 600.15px, 883.28px 600.06px, 883.54px 599.96px, 883.80px 599.87px, 884.06px 599.77px, 884.32px 599.68px, 884.57px 599.58px, 884.82px 599.48px, 885.08px 599.38px, 885.33px 599.29px, 885.58px 599.19px, 885.82px 599.09px, 886.07px 598.99px, 886.31px 598.89px, 886.56px 598.79px, 886.80px 598.68px, 887.04px 598.58px, 887.28px 598.48px, 887.51px 598.38px, 887.75px 598.27px, 887.98px 598.17px, 888.22px 598.07px, 888.45px 597.96px, 888.68px 597.86px, 888.90px 597.75px, 889.13px 597.65px, 889.35px 597.54px, 889.58px 597.43px, 889.80px 597.33px, 890.01px 597.22px, 890.23px 597.11px, 890.45px 597.01px, 890.66px 596.90px, 890.87px 596.79px, 891.08px 596.68px, 891.29px 596.57px, 891.50px 596.46px, 891.70px 596.35px, 891.90px 596.24px, 892.10px 596.13px, 892.30px 596.02px, 892.50px 595.91px, 892.69px 595.80px, 892.88px 595.69px, 893.07px 595.58px, 893.26px 595.47px, 893.45px 595.36px, 893.63px 595.24px, 893.82px 595.13px, 894.00px 595.02px, 894.17px 594.91px, 894.35px 594.79px, 894.52px 594.68px, 894.70px 594.57px, 894.87px 594.46px, 895.03px 594.34px, 895.20px 594.23px, 895.36px 594.12px, 895.52px 594.00px, 895.68px 593.89px, 895.84px 593.78px, 895.99px 593.66px, 896.15px 593.55px, 896.30px 593.43px, 896.44px 593.32px, 896.59px 593.21px, 896.73px 593.09px, 896.87px 592.98px, 897.01px 592.86px, 897.15px 592.75px, 897.28px 592.64px, 897.42px 592.52px, 897.55px 592.41px, 897.67px 592.29px, 897.80px 592.18px, 897.92px 592.07px, 898.04px 591.95px, 898.16px 591.84px, 898.27px 591.72px, 898.39px 591.61px, 898.50px 591.50px, 898.60px 591.38px, 898.71px 591.27px, 898.81px 591.16px, 898.91px 591.04px, 899.01px 590.93px, 899.11px 590.82px, 899.20px 590.71px, 899.29px 590.59px, 899.38px 590.48px, 899.47px 590.37px, 899.55px 590.26px, 899.63px 590.14px, 899.71px 590.03px, 899.78px 589.92px, 899.86px 589.81px, 899.93px 589.70px, 900.00px 589.59px, 900.06px 589.48px, 900.13px 589.37px, 900.19px 589.26px, 900.25px 589.15px, 900.30px 589.04px, 900.35px 588.93px, 900.40px 588.82px, 900.45px 588.71px, 900.50px 588.60px, 900.54px 588.49px, 900.58px 588.39px, 900.62px 588.28px, 900.65px 588.17px, 900.69px 588.07px, 900.72px 587.96px, 900.74px 587.85px, 900.77px 587.75px, 900.79px 587.64px, 900.81px 587.54px, 900.83px 587.43px, 900.84px 587.33px, 900.85px 587.23px, 900.86px 587.12px, 900.87px 587.02px, 900.87px 586.92px, 900.87px 586.82px, 900.87px 586.71px, 900.87px 586.61px, 900.86px 586.51px, 900.85px 586.41px, 900.84px 586.31px, 900.83px 586.21px, 900.81px 586.12px, 900.79px 586.02px, 900.77px 585.92px, 900.75px 585.82px, 900.72px 585.73px, 900.69px 585.63px, 900.66px 585.54px, 900.62px 585.44px, 900.58px 585.35px, 900.54px 585.25px, 900.50px 585.16px, 900.46px 585.07px, 900.41px 584.98px);background:conic-gradient(from 0deg at 866.75px 520.75px, #8E3434 0deg, #8E3434 152.343deg, #A03E3E 157.499deg, #B24848 163.686deg, #C85858 169.358deg, #E06C6C 173.483deg, #F07C7C 176.577deg, #EE7A7A 179.670deg, #DC6A6A 182.764deg, #C25050 185.858deg, #C85454 189.467deg, #CA5656 196.170deg, #C05050 201.326deg, #B04848 203.904deg, #B04848 360deg)"></div>
<div class="cone" style="clip-path:polygon(928.15px 522.19px, 894.50px 596.68px, 894.45px 596.79px, 894.40px 596.90px, 894.36px 597.01px, 894.32px 597.11px, 894.28px 597.22px, 894.25px 597.33px, 894.21px 597.43px, 894.18px 597.54px, 894.16px 597.65px, 894.13px 597.75px, 894.11px 597.86px, 894.09px 597.96px, 894.07px 598.07px, 894.06px 598.17px, 894.05px 598.27px, 894.04px 598.38px, 894.03px 598.48px, 894.03px 598.58px, 894.03px 598.68px, 894.03px 598.79px, 894.03px 598.89px, 894.04px 598.99px, 894.05px 599.09px, 894.06px 599.19px, 894.07px 599.29px, 894.09px 599.38px, 894.11px 599.48px, 894.13px 599.58px, 894.15px 599.68px, 894.18px 599.77px, 894.21px 599.87px, 894.24px 599.96px, 894.28px 600.06px, 894.32px 600.15px, 894.36px 600.25px, 894.40px 600.34px, 894.44px 600.43px, 894.49px 600.52px, 894.54px 600.62px, 894.59px 600.71px, 894.65px 600.80px, 894.71px 600.89px, 894.77px 600.98px, 894.83px 601.06px, 894.90px 601.15px, 894.97px 601.24px, 895.04px 601.32px, 895.11px 601.41px, 895.19px 601.50px, 895.26px 601.58px, 895.34px 601.66px, 895.43px 601.75px, 895.51px 601.83px, 895.60px 601.91px, 895.69px 601.99px, 895.79px 602.07px, 895.88px 602.15px, 895.98px 602.23px, 896.08px 602.31px, 896.18px 602.39px, 896.29px 602.46px, 896.40px 602.54px, 896.51px 602.61px, 896.62px 602.69px, 896.73px 602.76px, 896.85px 602.84px, 896.97px 602.91px, 897.09px 602.98px, 897.22px 603.05px, 897.35px 603.12px, 897.47px 603.19px, 897.61px 603.26px, 897.74px 603.32px, 897.88px 603.39px, 898.01px 603.46px, 898.16px 603.52px, 898.30px 603.59px, 898.44px 603.65px, 898.59px 603.71px, 898.74px 603.77px, 898.89px 603.83px, 899.05px 603.89px, 899.20px 603.95px, 899.36px 604.01px, 899.52px 604.07px, 899.69px 604.13px, 899.85px 604.18px, 900.02px 604.24px, 900.19px 604.29px, 900.36px 604.34px, 900.54px 604.40px, 900.71px 604.45px, 900.89px 604.50px, 901.07px 604.55px, 901.25px 604.60px, 901.44px 604.64px, 901.62px 604.69px, 901.81px 604.74px, 902.00px 604.78px, 902.19px 604.83px, 902.39px 604.87px, 902.58px 604.91px, 902.78px 604.95px, 902.98px 604.99px, 903.19px 605.03px, 903.39px 605.07px, 903.60px 605.11px, 903.80px 605.14px, 904.01px 605.18px, 904.22px 605.22px, 904.44px 605.25px, 904.65px 605.28px, 904.87px 605.31px, 905.09px 605.35px, 905.31px 605.38px, 905.53px 605.40px, 905.75px 605.43px, 905.98px 605.46px, 906.21px 605.49px, 906.44px 605.51px, 906.67px 605.53px, 906.90px 605.56px, 907.13px 605.58px, 907.37px 605.60px, 907.60px 605.62px, 907.84px 605.64px, 908.08px 605.66px, 908.32px 605.68px, 908.57px 605.69px, 908.81px 605.71px, 909.06px 605.72px, 909.31px 605.74px, 909.56px 605.75px, 909.81px 605.76px, 910.06px 605.77px, 910.31px 605.78px, 910.57px 605.79px, 910.82px 605.80px, 911.08px 605.80px, 911.34px 605.81px, 911.60px 605.81px, 911.86px 605.82px, 912.12px 605.82px, 912.38px 605.82px, 912.65px 605.82px, 912.91px 605.82px, 913.18px 605.82px, 913.45px 605.82px, 913.72px 605.81px, 913.99px 605.81px, 914.26px 605.80px, 914.53px 605.80px, 914.81px 605.79px, 915.08px 605.78px, 915.36px 605.77px, 915.63px 605.76px, 915.91px 605.75px, 916.19px 605.74px, 916.47px 605.72px, 916.75px 605.71px, 917.03px 605.69px, 917.31px 605.68px, 917.59px 605.66px, 917.88px 605.64px, 918.16px 605.62px, 918.45px 605.60px, 918.73px 605.58px, 919.02px 605.56px, 919.31px 605.53px, 919.60px 605.51px, 919.88px 605.49px, 920.17px 605.46px, 920.46px 605.43px, 920.75px 605.40px, 921.04px 605.38px, 921.34px 605.35px, 921.63px 605.31px, 921.92px 605.28px, 922.21px 605.25px, 922.51px 605.22px, 922.80px 605.18px, 923.10px 605.14px, 923.39px 605.11px, 923.68px 605.07px, 923.98px 605.03px, 924.28px 604.99px, 924.57px 604.95px, 924.87px 604.91px, 925.16px 604.87px, 925.46px 604.83px, 925.76px 604.78px, 926.06px 604.74px, 926.35px 604.69px, 926.65px 604.64px, 926.95px 604.60px, 927.25px 604.55px, 927.54px 604.50px, 927.84px 604.45px, 928.14px 604.40px, 928.44px 604.34px, 928.73px 604.29px, 929.03px 604.24px, 929.33px 604.18px, 929.63px 604.13px, 929.92px 604.07px, 930.22px 604.01px, 930.52px 603.95px, 930.82px 603.89px, 931.11px 603.83px, 931.41px 603.77px, 931.71px 603.71px, 932.00px 603.65px, 932.30px 603.59px, 932.59px 603.52px, 932.89px 603.46px, 933.18px 603.39px, 933.48px 603.32px, 933.77px 603.26px, 934.06px 603.19px, 934.36px 603.12px, 934.65px 603.05px, 934.94px 602.98px, 935.23px 602.91px, 935.53px 602.84px, 935.82px 602.76px, 936.11px 602.69px, 936.39px 602.61px, 936.68px 602.54px, 936.97px 602.46px, 937.26px 602.39px, 937.55px 602.31px, 937.83px 602.23px, 938.12px 602.15px, 938.40px 602.07px, 938.68px 601.99px, 938.97px 601.91px, 939.25px 601.83px, 939.53px 601.75px, 939.81px 601.66px, 940.09px 601.58px, 940.37px 601.50px, 940.65px 601.41px, 940.92px 601.32px, 941.20px 601.24px, 941.47px 601.15px, 941.75px 601.06px, 942.02px 600.98px, 942.29px 600.89px, 942.56px 600.80px, 942.83px 600.71px, 943.10px 600.62px, 943.37px 600.52px, 943.63px 600.43px, 943.90px 600.34px, 944.16px 600.25px, 944.42px 600.15px, 944.68px 600.06px, 944.94px 599.96px, 945.20px 599.87px, 945.46px 599.77px, 945.72px 599.68px, 945.97px 599.58px, 946.22px 599.48px, 946.48px 599.38px, 946.73px 599.29px, 946.98px 599.19px, 947.22px 599.09px, 947.47px 598.99px, 947.71px 598.89px, 947.96px 598.79px, 948.20px 598.68px, 948.44px 598.58px, 948.68px 598.48px, 948.91px 598.38px, 949.15px 598.27px, 949.38px 598.17px, 949.62px 598.07px, 949.85px 597.96px, 950.08px 597.86px, 950.30px 597.75px, 950.53px 597.65px, 950.75px 597.54px, 950.98px 597.43px, 951.20px 597.33px, 951.41px 597.22px, 951.63px 597.11px, 951.85px 597.01px, 952.06px 596.90px, 952.27px 596.79px, 952.48px 596.68px, 952.69px 596.57px, 952.90px 596.46px, 953.10px 596.35px, 953.30px 596.24px, 953.50px 596.13px, 953.70px 596.02px, 953.90px 595.91px, 954.09px 595.80px, 954.28px 595.69px, 954.47px 595.58px, 954.66px 595.47px, 954.85px 595.36px, 955.03px 595.24px, 955.22px 595.13px, 955.40px 595.02px, 955.57px 594.91px, 955.75px 594.79px, 955.92px 594.68px, 956.10px 594.57px, 956.27px 594.46px, 956.43px 594.34px, 956.60px 594.23px, 956.76px 594.12px, 956.92px 594.00px, 957.08px 593.89px, 957.24px 593.78px, 957.39px 593.66px, 957.55px 593.55px, 957.70px 593.43px, 957.84px 593.32px, 957.99px 593.21px, 958.13px 593.09px, 958.27px 592.98px, 958.41px 592.86px, 958.55px 592.75px, 958.68px 592.64px, 958.82px 592.52px, 958.95px 592.41px, 959.07px 592.29px, 959.20px 592.18px, 959.32px 592.07px, 959.44px 591.95px, 959.56px 591.84px, 959.67px 591.72px, 959.79px 591.61px, 959.90px 591.50px, 960.00px 591.38px, 960.11px 591.27px, 960.21px 591.16px, 960.31px 591.04px, 960.41px 590.93px, 960.51px 590.82px, 960.60px 590.71px, 960.69px 590.59px, 960.78px 590.48px, 960.87px 590.37px, 960.95px 590.26px, 961.03px 590.14px, 961.11px 590.03px, 961.18px 589.92px, 961.26px 589.81px, 961.33px 589.70px, 961.40px 589.59px, 961.46px 589.48px, 961.53px 589.37px, 961.59px 589.26px, 961.65px 589.15px, 961.70px 589.04px, 961.75px 588.93px, 961.80px 588.82px, 961.85px 588.71px, 961.90px 588.60px, 961.94px 588.49px, 961.98px 588.39px, 962.02px 588.28px, 962.05px 588.17px, 962.09px 588.07px, 962.12px 587.96px, 962.14px 587.85px, 962.17px 587.75px, 962.19px 587.64px, 962.21px 587.54px, 962.23px 587.43px, 962.24px 587.33px, 962.25px 587.23px, 962.26px 587.12px, 962.27px 587.02px, 962.27px 586.92px, 962.27px 586.82px, 962.27px 586.71px, 962.27px 586.61px, 962.26px 586.51px, 962.25px 586.41px, 962.24px 586.31px, 962.23px 586.21px, 962.21px 586.12px, 962.19px 586.02px, 962.17px 585.92px, 962.15px 585.82px, 962.12px 585.73px, 962.09px 585.63px, 962.06px 585.54px, 962.02px 585.44px, 961.98px 585.35px, 961.94px 585.25px, 961.90px 585.16px, 961.86px 585.07px, 961.81px 584.98px);background:conic-gradient(from 0deg at 928.15px 522.19px, #987070 0deg, #987070 151.805deg, #A87A7A 154.955deg, #C48E8E 160.206deg, #DCA2A2 166.507deg, #EEB2B2 171.758deg, #FCC8C8 175.959deg, #FFD0D0 179.109deg, #FAC2C2 182.260deg, #ECAEAE 185.410deg, #EEB0B0 189.611deg, #EAACAC 196.437deg, #DCA2A2 201.688deg, #C89494 204.313deg, #C89494 360deg)"></div>
</div>
</body></html>
